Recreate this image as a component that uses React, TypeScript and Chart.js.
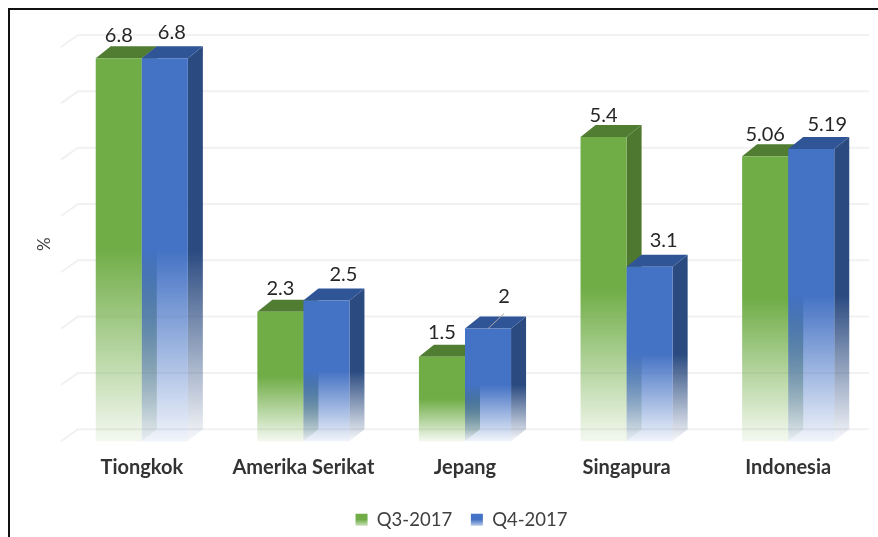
import React, { useEffect, useRef } from "react";
import { Chart, registerables } from "chart.js";

Chart.register(...registerables);

const categories = ["Tiongkok", "Amerika Serikat", "Jepang", "Singapura", "Indonesia"];
const q3Values = [6.8, 2.3, 1.5, 5.4, 5.06];
const q4Values = [6.8, 2.5, 2, 3.1, 5.19];
const q3Label = "Q3-2017";
const q4Label = "Q4-2017";

const FONT = "Lato, 'Open Sans', sans-serif";
const DEPTH_X = 15;
const DEPTH_Y = 12;
const GRID_DX = 17;
const LEGEND_SHIFT = 27;

// [r, g, b] of front, top and side faces per series
const faces = [
  { front: [112, 173, 71], top: [80, 125, 50], side: [78, 120, 48] },
  { front: [68, 114, 196], top: [47, 85, 151], side: [42, 74, 128] },
];
// horizontal and vertical shift of each data label from the top-centre of its bar
const labelShift = [
  [[0, -23], [0, -23], [0, -24], [0, -22], [0, -22]],
  [[7, -26], [17, -26], [16, -32], [14, -26], [16, -24]],
];
const leaderSeries = 1;
const leaderIndex = 2;

const rgba = (c: number[], a: number) => `rgba(${c[0]},${c[1]},${c[2]},${a})`;

function fade(ctx: CanvasRenderingContext2D, top: number, base: number, c: number[], end: number) {
  const g = ctx.createLinearGradient(0, top, 0, base);
  g.addColorStop(0, rgba(c, 1));
  g.addColorStop(0.5, rgba(c, 1));
  g.addColorStop(1, rgba(c, end));
  return g;
}

function drawDepth(chart: any, s: number) {
  const { ctx } = chart;
  const f = faces[s];
  const meta = chart.getDatasetMeta(s);
  ctx.save();
  meta.data.forEach((bar: any) => {
    const p = bar.getProps(["x", "y", "base", "width"], true);
    const l = p.x - p.width / 2;
    const r = p.x + p.width / 2;
    ctx.fillStyle = fade(ctx, p.y, p.base, f.side, 0.04);
    ctx.beginPath();
    ctx.moveTo(r, p.y);
    ctx.lineTo(r + DEPTH_X, p.y - DEPTH_Y);
    ctx.lineTo(r + DEPTH_X, p.base - DEPTH_Y);
    ctx.lineTo(r, p.base);
    ctx.closePath();
    ctx.fill();
    ctx.fillStyle = rgba(f.top, 1);
    ctx.beginPath();
    ctx.moveTo(l, p.y);
    ctx.lineTo(l + DEPTH_X, p.y - DEPTH_Y);
    ctx.lineTo(r + DEPTH_X, p.y - DEPTH_Y);
    ctx.lineTo(r, p.y);
    ctx.closePath();
    ctx.fill();
  });
  ctx.restore();
  meta.controller.draw();
}

const depthFaces = {
  id: "depthFaces",
  afterLayout(chart: any) {
    chart.legend.left += LEGEND_SHIFT;
    chart.legend.right += LEGEND_SHIFT;
  },
  beforeDatasetsDraw(chart: any) {
    const { ctx, scales } = chart;
    const y = scales.y;
    ctx.save();
    ctx.strokeStyle = "#f1f1f1";
    ctx.lineWidth = 2;
    for (let v = y.min; v <= y.max; v++) {
      const p = y.getPixelForValue(v);
      ctx.beginPath();
      ctx.moveTo(chart.chartArea.left, p);
      ctx.lineTo(chart.chartArea.left + GRID_DX, p - DEPTH_Y);
      ctx.lineTo(chart.chartArea.right, p - DEPTH_Y);
      ctx.stroke();
    }
    ctx.restore();
    // first series goes underneath, so its side face shows through the second series' fade
    chart.data.datasets.forEach((_: any, s: number) => drawDepth(chart, s));
  },
  beforeDatasetDraw() {
    return false;
  },
  afterDatasetsDraw(chart: any) {
    const { ctx } = chart;
    ctx.save();
    ctx.font = `20px ${FONT}`;
    ctx.fillStyle = "#262626";
    ctx.textAlign = "center";
    ctx.textBaseline = "middle";
    chart.data.datasets.forEach((ds: any, s: number) => {
      chart.getDatasetMeta(s).data.forEach((bar: any, i: number) => {
        const [dx, dy] = labelShift[s][i];
        ctx.fillText(String(ds.data[i]), bar.x + dx, bar.y + dy);
        if (s === leaderSeries && i === leaderIndex) {
          ctx.strokeStyle = "#a6a6a6";
          ctx.lineWidth = 1;
          ctx.beginPath();
          ctx.moveTo(bar.x, bar.y);
          ctx.lineTo(bar.x + dx, bar.y + dy + 17);
          ctx.stroke();
        }
      });
    });
    ctx.restore();
  },
};

const frontFill = (series: number) => (c: any) => {
  const y = c.chart.scales.y;
  if (!y || c.dataIndex === undefined) return rgba(faces[series].front, 1);
  const v = c.dataset.data[c.dataIndex];
  return fade(c.chart.ctx, y.getPixelForValue(v), y.getPixelForValue(0), faces[series].front, 0.08);
};

export default function App() {
  const ref = useRef<HTMLCanvasElement>(null);
  useEffect(() => {
    const canvas = ref.current!;
    const chart = new Chart(canvas, {
      type: "bar",
      data: {
        labels: categories,
        datasets: [
          { label: q3Label, data: q3Values, backgroundColor: frontFill(0) },
          { label: q4Label, data: q4Values, backgroundColor: frontFill(1) },
        ],
      },
      options: {
        responsive: false,
        animation: false,
        layout: { padding: { top: 47, right: 9, left: 0, bottom: 0 } },
        datasets: { bar: { barPercentage: 1, categoryPercentage: 0.57, borderWidth: 0 } },
        scales: {
          x: {
            grid: { display: false },
            border: { display: false },
            ticks: {
              padding: 6,
              maxRotation: 0,
              autoSkip: false,
              color: "#333333",
              font: { family: FONT, size: 20, weight: "bold" },
            },
            afterFit(scale: any) {
              scale.height = 50.5;
            },
          },
          y: {
            min: 0,
            max: 7,
            grid: { display: false },
            border: { display: false },
            ticks: { display: false, stepSize: 1 },
            title: {
              display: true,
              text: "%",
              color: "#404040",
              font: { family: FONT, size: 17 },
              padding: { top: 34, bottom: 0 },
            },
            afterFit(scale: any) {
              scale.width = 61;
            },
          },
        },
        plugins: {
          tooltip: { enabled: false },
          legend: {
            position: "bottom",
            labels: {
              boxWidth: 12,
              boxHeight: 12,
              padding: 18.75,
              color: "#404040",
              font: { family: FONT, size: 18.5 },
              generateLabels(ch: any) {
                return ch.data.datasets.map((ds: any, i: number) => {
                  const g = ch.ctx.createLinearGradient(0, 513, 0, 526);
                  g.addColorStop(0, rgba(faces[i].front, 1));
                  g.addColorStop(0.5, rgba(faces[i].front, 1));
                  g.addColorStop(1, rgba(faces[i].front, 0.35));
                  return {
                    text: ds.label,
                    fillStyle: g,
                    strokeStyle: "transparent",
                    lineWidth: 0,
                    fontColor: "#404040",
                    datasetIndex: i,
                  };
                });
              },
            },
          },
        },
      },
      plugins: [depthFaces],
    } as any);
    return () => chart.destroy();
  }, []);

  return (
    <div style={{ position: "fixed", left: 0, top: 0, width: 878, height: 537, background: "#fff", overflow: "hidden" }}>
      <canvas ref={ref} width={878} height={539} style={{ display: "block", filter: "blur(0.5px)" }} />
      <div style={{ position: "absolute", left: 8, top: 8, width: 900, height: 600, borderLeft: "2px solid #111", borderTop: "2px solid #111" }} />
    </div>
  );
}
